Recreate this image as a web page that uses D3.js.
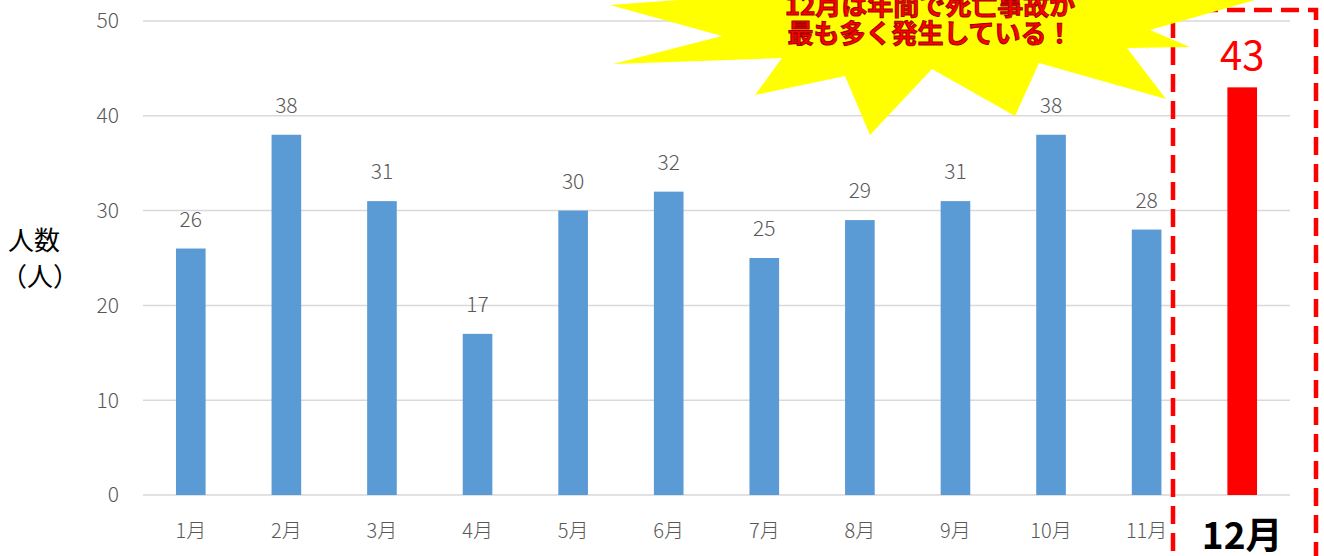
<!DOCTYPE html>
<html>
<head>
<meta charset="utf-8">
<script src="https://cdn.jsdelivr.net/npm/d3@7"></script>
<style>
  body { margin: 0; background: #fff; }
  svg { display: block; font-family: "Noto Sans CJK JP", "Noto Sans", sans-serif; }
</style>
</head>
<body>
<div class="canvas"></div>
<script>
const months = ["1月", "2月", "3月", "4月", "5月", "6月", "7月", "8月", "9月", "10月", "11月", "12月"];
const deaths = [26, 38, 31, 17, 30, 32, 25, 29, 31, 38, 28, 43];
const yTicks = [0, 10, 20, 30, 40, 50];
const calloutLines = ["12月は年間で死亡事故が", "最も多く発生している！"];

const dims = { width: 1324, height: 556 };
const plot = { left: 143, right: 1290, top: 21, bottom: 495 };

const svg = d3
  .select(".canvas")
  .append("svg")
  .attr("width", dims.width)
  .attr("height", dims.height);

const x = d3
  .scaleBand()
  .domain(months)
  .range([plot.left, plot.right])
  .paddingInner(0.69)
  .paddingOuter(0.345);

const y = d3.scaleLinear().domain([0, 50]).range([plot.bottom, plot.top]);

// gridlines
svg
  .append("g")
  .selectAll("line")
  .data(yTicks)
  .enter()
  .append("line")
  .attr("x1", plot.left)
  .attr("x2", plot.right)
  .attr("y1", (d) => y(d))
  .attr("y2", (d) => y(d))
  .attr("stroke", "#d9d9d9")
  .attr("stroke-width", 1.5);

// y tick labels
svg
  .append("g")
  .selectAll("text")
  .data(yTicks)
  .enter()
  .append("text")
  .attr("x", 119)
  .attr("y", (d) => y(d))
  .attr("dy", "0.35em")
  .attr("text-anchor", "end")
  .attr("fill", "#595959")
  .attr("font-size", 21)
  .attr("font-weight", 300)
  .text((d) => d);

// y axis title
svg
  .append("text")
  .attr("x", 8)
  .attr("y", 250)
  .attr("font-size", 26)
  .attr("fill", "#000")
  .text("人数");
svg
  .append("text")
  .attr("x", 1)
  .attr("y", 286)
  .attr("font-size", 26)
  .attr("fill", "#000")
  .text("（人）");

const last = months[months.length - 1];
const rows = months.map((m, i) => ({ month: m, value: deaths[i] }));

// bars
svg
  .append("g")
  .selectAll("rect")
  .data(rows)
  .enter()
  .append("rect")
  .attr("x", (d) => x(d.month))
  .attr("y", (d) => y(d.value))
  .attr("width", x.bandwidth())
  .attr("height", (d) => y(0) - y(d.value))
  .attr("fill", (d) => (d.month === last ? "#ff0000" : "#5b9bd5"));

// value labels
svg
  .append("g")
  .selectAll("text")
  .data(rows)
  .enter()
  .append("text")
  .attr("x", (d) => x(d.month) + x.bandwidth() / 2)
  .attr("y", (d) => y(d.value) - (d.month === last ? 17 : 22))
  .attr("text-anchor", "middle")
  .attr("fill", (d) => (d.month === last ? "#ff0000" : "#595959"))
  .attr("font-size", (d) => (d.month === last ? 40 : 21))
  .attr("font-weight", (d) => (d.month === last ? 400 : 300))
  .text((d) => d.value);

// x labels
svg
  .append("g")
  .selectAll("text")
  .data(rows)
  .enter()
  .append("text")
  .attr("x", (d) => x(d.month) + x.bandwidth() / 2)
  .attr("y", (d) => (d.month === last ? 549 : 538))
  .attr("text-anchor", "middle")
  .attr("fill", (d) => (d.month === last ? "#000" : "#595959"))
  .attr("font-size", (d) => (d.month === last ? 37 : 20))
  .attr("font-weight", (d) => (d.month === last ? "bold" : 300))
  .text((d) => d.month);

// dashed highlight box around december
svg
  .append("rect")
  .attr("x", 1173)
  .attr("y", 10)
  .attr("width", 143)
  .attr("height", 600)
  .attr("fill", "none")
  .attr("stroke", "#ff0000")
  .attr("stroke-width", 4.5)
  .attr("stroke-dasharray", "18 9");

// starburst callout
const burst = [
  [700, -30], [760, -6], [610, 5], [722, 36], [613, 64], [782, 58],
  [755, 95], [845, 76], [870, 135], [932, 69], [1015, 116], [1039, 63],
  [1166, 99], [1127, 48], [1190, 47], [1150, 30], [1262, -2], [1120, -40]
];
svg
  .append("polygon")
  .attr("points", burst.map((p) => p.join(",")).join(" "))
  .attr("fill", "#ffff00");

svg
  .append("g")
  .selectAll("text")
  .data(calloutLines)
  .enter()
  .append("text")
  .attr("x", 930)
  .attr("y", (d, i) => 15 + i * 28)
  .attr("text-anchor", "middle")
  .attr("font-size", 26)
  .attr("font-weight", "bold")
  .attr("fill", "#ff0000")
  .attr("stroke", "#a00000")
  .attr("stroke-width", 1)
  .text((d) => d);
</script>
</body>
</html>
